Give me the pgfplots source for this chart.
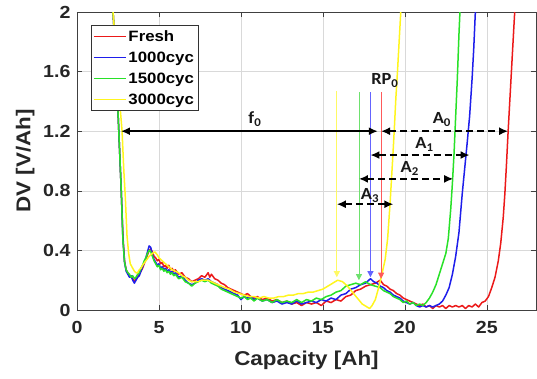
\documentclass[border=0pt]{standalone}
\usepackage{fontspec}
\setmainfont{Liberation Sans}[FakeStretch=1.12]
\newfontfamily\annfont{Carlito}[FakeStretch=1.08]
\usepackage{pgfplots}
\pgfplotsset{compat=1.18}
\usetikzlibrary{arrows.meta}
\definecolor{cfresh}{RGB}{235,25,25}
\definecolor{cblue}{RGB}{30,30,235}
\definecolor{cgreen}{RGB}{40,225,40}
\definecolor{cyellow}{RGB}{255,245,30}
\definecolor{afresh}{RGB}{255,90,90}
\definecolor{ablue}{RGB}{100,100,255}
\definecolor{agreen}{RGB}{110,225,110}
\definecolor{ayellow}{RGB}{255,250,100}
\begin{document}
\begin{tikzpicture}
\useasboundingbox (-77pt,-68pt) rectangle (460pt,310pt);
\begin{axis}[
  scale only axis, width=459pt, height=298pt,
  at={(0,0)}, anchor=south west,
  xmin=0, xmax=28, ymin=0, ymax=2,
  xtick={0,5,10,15,20,25}, ytick={0,0.4,0.8,1.2,1.6,2},
  grid=major, grid style={black!15, line width=0.6pt},
  axis line style={black!75, line width=0.8pt},
  tick style={black!75, line width=0.6pt}, major tick length=5pt,
  /pgf/number format/assume math mode=true,
  ticklabel style={font=\fontsize{17.5}{20}\selectfont\bfseries, text=black!85},
  xticklabel style={yshift=-8pt},
  yticklabel style={xshift=-3pt},
  xlabel={Capacity [Ah]}, ylabel={DV [V/Ah]},
  label style={font=\fontsize{20}{24}\selectfont\bfseries, text=black!85},
  xlabel style={at={(axis description cs:0.5,-0.168)}, anchor=center},
  ylabel style={at={(axis description cs:-0.113,0.5)}, anchor=center},
  legend style={at={(0.0305,0.956)}, anchor=north west,
    font=\fontsize{15}{17}\selectfont\bfseries, draw=black!80, line width=0.6pt,
    inner xsep=2pt, inner ysep=3pt, row sep=5pt, cells={anchor=west}},
  legend image code/.code={\draw[#1, line width=1.2pt] (0pt,0pt) -- (32pt,0pt);},
  every axis plot/.append style={line join=round},
]
\addplot[cfresh, line width=1.5pt] coordinates {
(2.0,2.4) (2.2,2.0) (2.4,1.6) (2.55,1.2) (2.7,0.8) (2.8,0.5) (2.9,0.33) (3.0,0.27) (3.1,0.25) (3.2,0.23) (3.3,0.22) (3.4,0.21) (3.5,0.19) (3.6,0.21) (3.7,0.22) (3.8,0.24) (3.9,0.26) (4.0,0.28) (4.1,0.31) (4.2,0.34) (4.3,0.37) (4.4,0.40) (4.5,0.41) (4.6,0.39) (4.7,0.36) (4.8,0.35) (4.9,0.33) (5.0,0.34) (5.1,0.31) (5.2,0.32) (5.3,0.29) (5.4,0.30) (5.5,0.28) (5.6,0.30) (5.7,0.27) (5.8,0.28) (5.9,0.26) (6.0,0.27) (6.2,0.24) (6.4,0.25) (6.6,0.22) (6.8,0.21) (7.0,0.19) (7.2,0.20) (7.4,0.21) (7.6,0.23) (7.8,0.22) (8.0,0.25) (8.1,0.22) (8.2,0.24) (8.4,0.21) (8.6,0.20) (8.8,0.18) (9.0,0.17) (9.2,0.15) (9.4,0.14) (9.6,0.13) (9.8,0.12) (10.0,0.11) (10.2,0.10) (10.4,0.11) (10.6,0.09) (10.8,0.08) (11.0,0.09) (11.3,0.07) (11.6,0.08) (11.9,0.06) (12.2,0.07) (12.5,0.05) (12.8,0.06) (13.1,0.04) (13.4,0.05) (13.7,0.03) (14.0,0.05) (14.3,0.04) (14.6,0.05) (14.9,0.03) (15.2,0.06) (15.5,0.05) (15.8,0.07) (16.1,0.06) (16.4,0.09) (16.7,0.10) (17.0,0.13) (17.3,0.14) (17.6,0.16) (17.9,0.17) (18.2,0.18) (18.5,0.20) (18.7,0.17) (18.9,0.16) (19.1,0.14) (19.3,0.13) (19.5,0.11) (19.7,0.10) (19.9,0.08) (20.1,0.07) (20.3,0.06) (20.5,0.05) (20.7,0.04) (20.9,0.03) (21.1,0.04) (21.3,0.02) (21.5,0.03) (21.7,0.01) (21.9,0.03) (22.1,0.02) (22.3,0.03) (22.5,0.01) (22.7,0.03) (22.9,0.02) (23.1,0.03) (23.3,0.02) (23.5,0.03) (23.7,0.01) (23.9,0.03) (24.1,0.02) (24.3,0.04) (24.5,0.02) (24.7,0.05) (24.9,0.06) (25.1,0.09) (25.3,0.15) (25.5,0.22) (25.7,0.33) (25.85,0.45) (26.0,0.62) (26.1,0.78) (26.2,0.98) (26.3,1.2) (26.4,1.4) (26.5,1.6) (26.6,1.8) (26.7,2.0) (26.8,2.2)
};
\addlegendentry{Fresh}
\addplot[cblue, line width=1.5pt] coordinates {
(2.0,2.4) (2.2,2.0) (2.4,1.6) (2.55,1.2) (2.7,0.8) (2.8,0.48) (2.9,0.32) (3.0,0.26) (3.1,0.24) (3.2,0.22) (3.3,0.23) (3.4,0.20) (3.5,0.18) (3.6,0.20) (3.7,0.22) (3.8,0.23) (3.9,0.26) (4.0,0.29) (4.1,0.32) (4.2,0.35) (4.3,0.39) (4.4,0.43) (4.5,0.42) (4.6,0.37) (4.7,0.34) (4.8,0.32) (4.9,0.30) (5.0,0.31) (5.1,0.28) (5.2,0.29) (5.3,0.27) (5.4,0.28) (5.5,0.26) (5.6,0.27) (5.7,0.25) (5.8,0.26) (5.9,0.24) (6.0,0.25) (6.2,0.22) (6.4,0.23) (6.6,0.20) (6.8,0.18) (7.0,0.17) (7.2,0.18) (7.4,0.20) (7.6,0.21) (7.8,0.20) (8.0,0.21) (8.2,0.19) (8.4,0.18) (8.6,0.17) (8.8,0.15) (9.0,0.14) (9.2,0.13) (9.4,0.12) (9.6,0.11) (9.8,0.10) (10.0,0.07) (10.2,0.09) (10.4,0.08) (10.6,0.09) (10.8,0.07) (11.0,0.08) (11.3,0.06) (11.6,0.07) (11.9,0.05) (12.2,0.06) (12.5,0.04) (12.8,0.05) (13.1,0.04) (13.4,0.06) (13.7,0.04) (14.0,0.05) (14.3,0.06) (14.6,0.05) (14.9,0.07) (15.2,0.06) (15.5,0.08) (15.8,0.07) (16.1,0.10) (16.4,0.11) (16.7,0.14) (17.0,0.15) (17.3,0.17) (17.6,0.18) (17.9,0.21) (18.1,0.19) (18.3,0.18) (18.5,0.16) (18.7,0.15) (18.9,0.13) (19.1,0.12) (19.3,0.10) (19.5,0.09) (19.7,0.08) (19.9,0.06) (20.1,0.05) (20.3,0.04) (20.5,0.05) (20.7,0.03) (20.9,0.02) (21.1,0.03) (21.3,0.02) (21.5,0.03) (21.7,0.02) (21.9,0.03) (22.1,0.04) (22.3,0.06) (22.5,0.10) (22.7,0.15) (22.9,0.24) (23.1,0.36) (23.3,0.52) (23.5,0.78) (23.65,0.95) (23.8,1.12) (23.95,1.3) (24.1,1.55) (24.2,1.75) (24.3,2.0) (24.4,2.2)
};
\addlegendentry{1000cyc}
\addplot[cgreen, line width=1.5pt] coordinates {
(2.0,2.4) (2.2,2.0) (2.4,1.6) (2.55,1.2) (2.7,0.8) (2.8,0.47) (2.9,0.32) (3.0,0.27) (3.1,0.25) (3.2,0.24) (3.3,0.22) (3.4,0.23) (3.5,0.21) (3.6,0.22) (3.7,0.24) (3.8,0.25) (3.9,0.28) (4.0,0.30) (4.1,0.33) (4.2,0.35) (4.3,0.38) (4.4,0.40) (4.5,0.39) (4.6,0.36) (4.7,0.33) (4.8,0.31) (4.9,0.29) (5.0,0.30) (5.1,0.27) (5.2,0.28) (5.3,0.26) (5.4,0.27) (5.5,0.25) (5.6,0.26) (5.7,0.24) (5.8,0.25) (5.9,0.23) (6.0,0.24) (6.2,0.21) (6.4,0.22) (6.6,0.19) (6.8,0.18) (7.0,0.16) (7.2,0.18) (7.4,0.19) (7.6,0.20) (7.8,0.19) (8.0,0.20) (8.2,0.18) (8.4,0.17) (8.6,0.16) (8.8,0.14) (9.0,0.13) (9.2,0.12) (9.4,0.11) (9.6,0.10) (9.8,0.09) (10.0,0.08) (10.2,0.09) (10.4,0.07) (10.6,0.08) (10.8,0.06) (11.0,0.08) (11.3,0.06) (11.6,0.07) (11.9,0.05) (12.2,0.07) (12.5,0.05) (12.8,0.06) (13.1,0.05) (13.4,0.07) (13.7,0.05) (14.0,0.07) (14.3,0.06) (14.6,0.08) (14.9,0.07) (15.2,0.09) (15.5,0.10) (15.8,0.12) (16.1,0.13) (16.4,0.16) (16.7,0.17) (17.0,0.18) (17.3,0.17) (17.6,0.19) (17.9,0.17) (18.2,0.16) (18.5,0.15) (18.7,0.13) (18.9,0.12) (19.1,0.11) (19.3,0.09) (19.5,0.08) (19.7,0.07) (19.9,0.05) (20.1,0.06) (20.3,0.04) (20.5,0.05) (20.7,0.03) (20.9,0.04) (21.1,0.03) (21.3,0.05) (21.5,0.08) (21.7,0.12) (21.9,0.17) (22.1,0.24) (22.3,0.31) (22.5,0.38) (22.65,0.48) (22.8,0.68) (22.9,0.85) (23.0,1.05) (23.1,1.3) (23.2,1.55) (23.3,1.85) (23.4,2.1)
};
\addlegendentry{1500cyc}
\addplot[cyellow, line width=1.5pt] coordinates {
(2.0,2.4) (2.2,2.0) (2.4,1.7) (2.6,1.4) (2.75,1.2) (2.85,0.95) (2.95,0.75) (3.05,0.5) (3.15,0.38) (3.25,0.31) (3.4,0.28) (3.5,0.26) (3.6,0.25) (3.7,0.25) (3.8,0.27) (3.9,0.28) (4.0,0.30) (4.2,0.33) (4.4,0.36) (4.6,0.38) (4.75,0.39) (4.9,0.37) (5.0,0.35) (5.2,0.33) (5.4,0.31) (5.6,0.29) (5.8,0.27) (6.0,0.26) (6.2,0.25) (6.4,0.23) (6.6,0.22) (6.8,0.20) (7.0,0.19) (7.2,0.19) (7.4,0.19) (7.6,0.20) (7.8,0.20) (8.0,0.20) (8.2,0.19) (8.4,0.18) (8.6,0.17) (8.8,0.16) (9.0,0.15) (9.3,0.14) (9.6,0.12) (9.9,0.11) (10.2,0.10) (10.5,0.09) (10.8,0.09) (11.1,0.08) (11.4,0.09) (11.7,0.08) (12.0,0.08) (12.3,0.09) (12.6,0.09) (12.9,0.10) (13.2,0.10) (13.5,0.11) (13.8,0.11) (14.1,0.12) (14.4,0.12) (14.7,0.13) (15.0,0.14) (15.3,0.16) (15.6,0.18) (15.9,0.20) (16.2,0.19) (16.5,0.16) (16.8,0.12) (17.1,0.08) (17.4,0.04) (17.7,0.02) (17.85,0.01) (18.0,0.03) (18.2,0.07) (18.4,0.15) (18.6,0.24) (18.8,0.34) (18.95,0.48) (19.1,0.72) (19.25,1.0) (19.35,1.2) (19.45,1.42) (19.55,1.6) (19.65,1.8) (19.75,2.0) (19.85,2.2)
};
\addlegendentry{3000cyc}
% coloured markers
\addplot[ayellow, line width=0.8pt, -{Triangle[length=6pt,width=6pt]}, forget plot] coordinates {(15.85,1.47) (15.85,0.22)};
\addplot[agreen, line width=0.8pt, -{Triangle[length=6pt,width=6pt]}, forget plot] coordinates {(17.2,1.46) (17.2,0.20)};
\addplot[ablue, line width=0.8pt, -{Triangle[length=6pt,width=6pt]}, forget plot] coordinates {(17.9,1.46) (17.9,0.22)};
\addplot[afresh, line width=0.8pt, -{Triangle[length=6pt,width=6pt]}, forget plot] coordinates {(18.55,1.46) (18.55,0.21)};
% black arrows
\draw[{Latex[length=9pt,width=8pt]}-{Latex[length=9pt,width=8pt]}, line width=1.7pt] (axis cs:2.68,1.2) -- (axis cs:18.35,1.2);
\draw[{Latex[length=9pt,width=8pt]}-{Latex[length=9pt,width=8pt]}, line width=1.7pt, dash pattern=on 7pt off 4pt] (axis cs:18.55,1.2) -- (axis cs:26.3,1.2);
\draw[{Latex[length=9pt,width=8pt]}-{Latex[length=9pt,width=8pt]}, line width=1.7pt, dash pattern=on 7pt off 4pt] (axis cs:17.9,1.04) -- (axis cs:23.95,1.04);
\draw[{Latex[length=9pt,width=8pt]}-{Latex[length=9pt,width=8pt]}, line width=1.7pt, dash pattern=on 7pt off 4pt] (axis cs:17.2,0.88) -- (axis cs:22.95,0.88);
\draw[{Latex[length=9pt,width=8pt]}-{Latex[length=9pt,width=8pt]}, line width=1.7pt, dash pattern=on 7pt off 4pt] (axis cs:15.85,0.71) -- (axis cs:19.3,0.71);
\begin{scope}[every node/.style={font=\annfont\fontsize{17}{19}\selectfont\bfseries, text=black!90}]
\node at (axis cs:10.85,1.28) {f\textsubscript{0}};
\node at (axis cs:18.78,1.54) {RP\textsubscript{0}};
\node at (axis cs:22.26,1.28) {A\textsubscript{0}};
\node at (axis cs:21.2,1.11) {A\textsubscript{1}};
\node at (axis cs:20.3,0.95) {A\textsubscript{2}};
\node at (axis cs:17.87,0.77) {A\textsubscript{3}};
\end{scope}
\end{axis}
\end{tikzpicture}
\end{document}
